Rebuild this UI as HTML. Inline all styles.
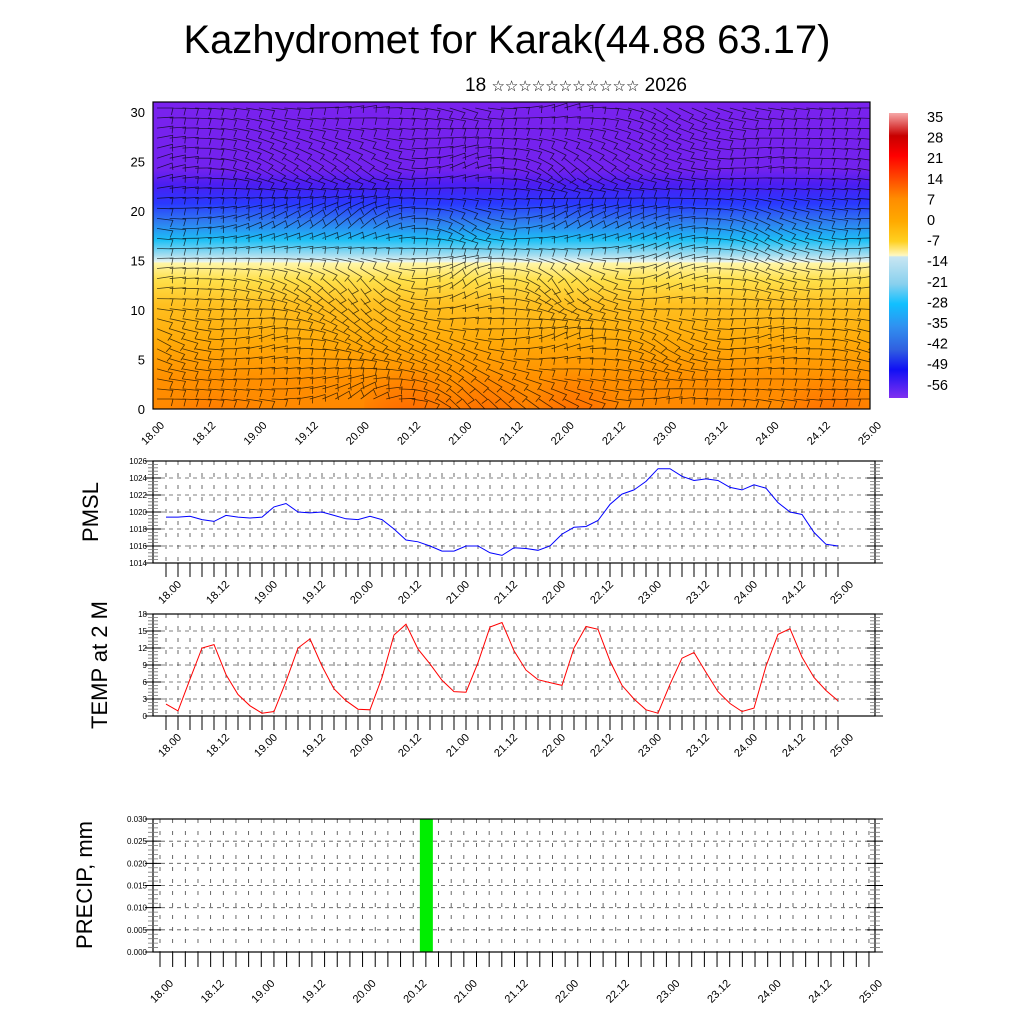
<!DOCTYPE html>
<html><head><meta charset="utf-8"><style>
html,body{margin:0;padding:0;background:#fff;}
svg{display:block;font-family:"Liberation Sans","DejaVu Sans",sans-serif;}
</style></head><body>
<svg id="root" width="1024" height="1024" viewBox="0 0 1024 1024" xmlns="http://www.w3.org/2000/svg">
<defs>
<linearGradient id="tgrad" x1="0" y1="102" x2="0" y2="409" gradientUnits="userSpaceOnUse">
<stop offset="0" stop-color="#7a22ee"/>
<stop offset="0.22" stop-color="#7222ee"/>
<stop offset="0.27" stop-color="#4a1ef2"/>
<stop offset="0.33" stop-color="#2a38ff"/>
<stop offset="0.39" stop-color="#2f7cf0"/>
<stop offset="0.45" stop-color="#1cc0f6"/>
<stop offset="0.5" stop-color="#a8def0"/>
<stop offset="0.52" stop-color="#e8f4f0"/>
<stop offset="0.525" stop-color="#fff6a8"/>
<stop offset="0.58" stop-color="#ffe04a"/>
<stop offset="0.66" stop-color="#ffc020"/>
<stop offset="0.78" stop-color="#ffaa08"/>
<stop offset="0.9" stop-color="#ff9000"/>
<stop offset="1" stop-color="#ff8800"/>
</linearGradient>
<linearGradient id="cbgrad" x1="0" y1="113" x2="0" y2="398" gradientUnits="userSpaceOnUse">
<stop offset="0" stop-color="#f6a8a8"/>
<stop offset="0.08" stop-color="#c80000"/>
<stop offset="0.15" stop-color="#ff0000"/>
<stop offset="0.23" stop-color="#ff4a00"/>
<stop offset="0.3" stop-color="#ff8c00"/>
<stop offset="0.38" stop-color="#ffaa00"/>
<stop offset="0.45" stop-color="#ffd020"/>
<stop offset="0.5" stop-color="#fff8c0"/>
<stop offset="0.505" stop-color="#c8e6f2"/>
<stop offset="0.6" stop-color="#88d0ee"/>
<stop offset="0.67" stop-color="#10c0ff"/>
<stop offset="0.75" stop-color="#3090f0"/>
<stop offset="0.83" stop-color="#3060e0"/>
<stop offset="0.9" stop-color="#1010f4"/>
<stop offset="1" stop-color="#8030f0"/>
</linearGradient>
<radialGradient id="hot" cx="0.5" cy="1" r="0.8">
<stop offset="0" stop-color="#ff2800" stop-opacity="0.95"/>
<stop offset="0.5" stop-color="#ff4000" stop-opacity="0.5"/>
<stop offset="1" stop-color="#ff5000" stop-opacity="0"/>
</radialGradient>
<clipPath id="topclip"><rect x="153" y="102" width="717" height="307"/></clipPath>
</defs>
<text x="507" y="53" font-size="40" text-anchor="middle">Kazhydromet for Karak(44.88 63.17)</text>
<text x="576" y="91" font-size="19" text-anchor="middle">18 <tspan font-size="15">☆☆☆☆☆☆☆☆☆☆☆</tspan> 2026</text>
<g id="top"></g>
<g id="cbar"></g>
<g id="pmsl"></g>
<g id="temp"></g>
<g id="precip"></g>
</svg>
<script>
const NS="http://www.w3.org/2000/svg";
const timeLabels=["18.00","18.12","19.00","19.12","20.00","20.12","21.00","21.12","22.00","22.12","23.00","23.12","24.00","24.12","25.00"];
const pmslValues=[1019.4,1019.4,1019.5,1019.1,1018.9,1019.6,1019.4,1019.3,1019.4,1020.6,1021.0,1020.0,1019.9,1020.0,1019.6,1019.2,1019.1,1019.5,1019.1,1018.0,1016.7,1016.5,1016.0,1015.4,1015.4,1016.0,1016.0,1015.2,1014.9,1015.8,1015.7,1015.5,1016.0,1017.4,1018.2,1018.3,1019.0,1020.9,1022.1,1022.6,1023.6,1025.1,1025.1,1024.2,1023.7,1023.9,1023.7,1022.9,1022.6,1023.2,1022.8,1021.1,1020.0,1019.7,1017.6,1016.2,1016.0];
const pmslTicks=[1014,1016,1018,1020,1022,1024,1026];
const tempValues=[2.1,0.9,6.5,12.0,12.6,7.3,3.8,1.8,0.5,0.8,6.1,12.0,13.6,8.8,4.8,2.7,1.2,1.1,6.8,14.3,16.2,11.8,9.2,6.3,4.3,4.2,9.4,15.7,16.5,11.5,8.1,6.4,5.9,5.4,12.0,15.8,15.3,9.7,5.4,3.0,1.1,0.5,5.6,10.2,11.2,7.7,4.3,2.2,0.8,1.4,8.8,14.4,15.4,10.4,6.8,4.5,2.7];
const tempTicks=[0,3,6,9,12,15,18];
const precipValues=new Array(57).fill(0);precipValues[21]=0.031;
const precipTicks=[0.000,0.005,0.010,0.015,0.020,0.025,0.030];
const heightTicks=[0,5,10,15,20,25,30];
const cbarLabels=["35","28","21","14","7","0","-7","-14","-21","-28","-35","-42","-49","-56"];
const hotspotX=[20.5,21.25,22.1,24.6,18.6];
const hotspotAmp=[1,0.85,0.9,0.8,0.45];
const windAngle=[
[0,10,-10,20,-20,30,10,0],
[-20,30,40,-30,50,20,-10,10],
[10,-30,-50,40,-40,-20,30,0],
[-10,20,60,-50,70,-30,20,-10],
[30,-20,30,20,-30,40,-20,20],
[0,10,-40,50,30,-10,10,0]];

function el(tag,attrs,parent){const e=document.createElementNS(NS,tag);for(const k in attrs)e.setAttribute(k,attrs[k]);parent.appendChild(e);return e;}

(function(){
const g=document.getElementById('top');
const X0=153,X1=870,Y0=102,Y1=409;
const tx=d=>X0+(d-18)/7*(X1-X0);
const hy=h=>409-(h/31)*307;
const cl=el('g',{'clip-path':'url(#topclip)'},g);
const bg=el('rect',{x:X0,y:Y0,width:X1-X0,height:Y1-Y0,fill:'url(#tgrad)'},cl);


hotspotX.forEach((d,i)=>{
 const e=el('ellipse',{cx:tx(d),cy:409,rx:45,ry:75*hotspotAmp[i],fill:'url(#hot)',opacity:hotspotAmp[i]},cl);
 
 
});
const cols=56,rows=30;
let path='';
for(let r=0;r<rows;r++){for(let c=0;c<cols;c++){
 const x=X0+4+c*(X1-X0-4)/cols, y=Y0+6+r*(Y1-Y0-6)/rows;
 const fr=r/(rows-1)*(windAngle.length-1), fc=c/(cols-1)*(windAngle[0].length-1);
 const r0=Math.floor(fr),c0=Math.floor(fc),r1=Math.min(r0+1,windAngle.length-1),c1=Math.min(c0+1,windAngle[0].length-1);
 const ar=fr-r0,ac=fc-c0;
 const a=(windAngle[r0][c0]*(1-ar)*(1-ac)+windAngle[r0][c1]*(1-ar)*ac+windAngle[r1][c0]*ar*(1-ac)+windAngle[r1][c1]*ar*ac)*Math.PI/180;
 const L=16,dx=Math.cos(a)*L,dy=Math.sin(a)*L;
 const x2=x+dx,y2=y+dy;
 const bx=x2-Math.sin(a)*7-dx*0.1,by=y2+Math.cos(a)*7-dy*0.1;
 path+=`M${x.toFixed(1)} ${y.toFixed(1)}L${x2.toFixed(1)} ${y2.toFixed(1)}L${bx.toFixed(1)} ${by.toFixed(1)}`;
}}
const wb=el('path',{d:path,stroke:'#000',fill:'none','stroke-width':0.8,'stroke-opacity':0.7},cl);


el('rect',{x:X0,y:Y0,width:X1-X0,height:Y1-Y0,fill:'none',stroke:'#000','stroke-width':1.2},g);
heightTicks.forEach(h=>{
 const t=el('text',{x:145,y:hy(h)+5,'font-size':13,'text-anchor':'end'},g);t.textContent=h;
 
 
});
timeLabels.forEach((lab,i)=>{
 const x=X0+i*(X1-X0)/14;
 const t=el('text',{transform:`translate(${x+12},${Y1+17}) rotate(-45)`,'font-size':11,'text-anchor':'end'},g);t.textContent=lab;
 
 
});
})();

(function(){
const g=document.getElementById('cbar');
const r=el('rect',{x:889,y:113,width:19,height:285,fill:'url(#cbgrad)'},g);


cbarLabels.forEach((l,i)=>{
 const t=el('text',{x:927,y:122+i*20.6,'font-size':14.5},g);t.textContent=l;
 
 
});
})();

function panel(id,vals,ticks,yTop,yBot,color,title,titleX,titleY,opts){
 const g=document.getElementById(id);
 const X0=153,X1=875;
 const xs=opts.x0,step=opts.step;
 const xOf=i=>xs+i*step;
 const vmin=ticks[0],vmax=ticks[ticks.length-1];
 const yOf=v=>yBot-(Math.min(v,vmax)-vmin)/(vmax-vmin)*(yBot-yTop);
 let gp='';
 ticks.forEach((v,i)=>{if(i>0&&i<ticks.length-1)gp+=`M${X0} ${yOf(v)}H${X1}`;});
 el('path',{d:gp,stroke:'#555','stroke-width':0.8,'stroke-dasharray':'4 4',fill:'none'},g);
 let vp='';
 for(let i=0;i<57;i++)vp+=`M${xOf(i)} ${yTop}V${yBot}`;
 el('path',{d:vp,stroke:'#444','stroke-width':0.8,'stroke-dasharray':'4 8',fill:'none'},g);
 if(opts.bar){
  vals.forEach((v,i)=>{if(v>0){
   const b=el('rect',{x:xOf(i)-6,y:yOf(v),width:13,height:yBot-yOf(v),fill:'#00ee00'},g);
   
   
  }});
 } else {
  const pl=el('polyline',{points:vals.map((v,i)=>xOf(i)+','+yOf(v).toFixed(1)).join(' '),fill:'none',stroke:color,'stroke-width':1},g);
  
  
 }
 el('rect',{x:X0,y:yTop,width:X1-X0,height:yBot-yTop,fill:'none',stroke:'#000','stroke-width':1.2},g);
 let tp='',mp='';
 const nMin=(ticks.length-1)*5;
 for(let k=0;k<=nMin;k++){
  const y=yBot-k*(yBot-yTop)/nMin;
  if(k%5==0)tp+=`M${X0-8} ${y}H${X0+8}M${X1-8} ${y}H${X1+8}`;
  else mp+=`M${X0-5} ${y}H${X0+5}M${X1-5} ${y}H${X1+5}`;
 }
 el('path',{d:tp,stroke:'#000','stroke-width':1,fill:'none'},g);
 el('path',{d:mp,stroke:'#777','stroke-width':0.8,fill:'none'},g);
 ticks.forEach(v=>{
  const t=el('text',{x:X0-6,y:yOf(v)+3,'font-size':8,'text-anchor':'end'},g);t.textContent=opts.fmt?v.toFixed(3):v;
  
  
 });
 let xp='';
 for(let i=0;i<57;i++)xp+=`M${xOf(i)} ${yBot}V${yBot+opts.tl}`;
 el('path',{d:xp,stroke:'#000','stroke-width':1,fill:'none'},g);
 timeLabels.forEach((lab,i)=>{
  const x=xOf(i*4);
  const t=el('text',{transform:`translate(${x+opts.lx},${yBot+opts.ly}) rotate(-45)`,'font-size':11,'text-anchor':'end'},g);t.textContent=lab;
  
  
 });
 const tt=el('text',{transform:`translate(${titleX},${titleY}) rotate(-90)`,'font-size':22,'text-anchor':'middle'},g);tt.textContent=title;
 
 
}
panel('pmsl',pmslValues,pmslTicks,461,563,'#0000ff','PMSL',98,512,{x0:166,step:12,tl:14,lx:16,ly:22});
panel('temp',tempValues,tempTicks,614,716,'#ff0000','TEMP at 2 M',107,665,{x0:166,step:12,tl:14,lx:16,ly:22});
panel('precip',precipValues,precipTicks,819,952,'#00ee00','PRECIP, mm',92,885,{x0:160,step:12.66,tl:15,lx:14,ly:32,bar:true,fmt:true});
</script>
</body></html>
